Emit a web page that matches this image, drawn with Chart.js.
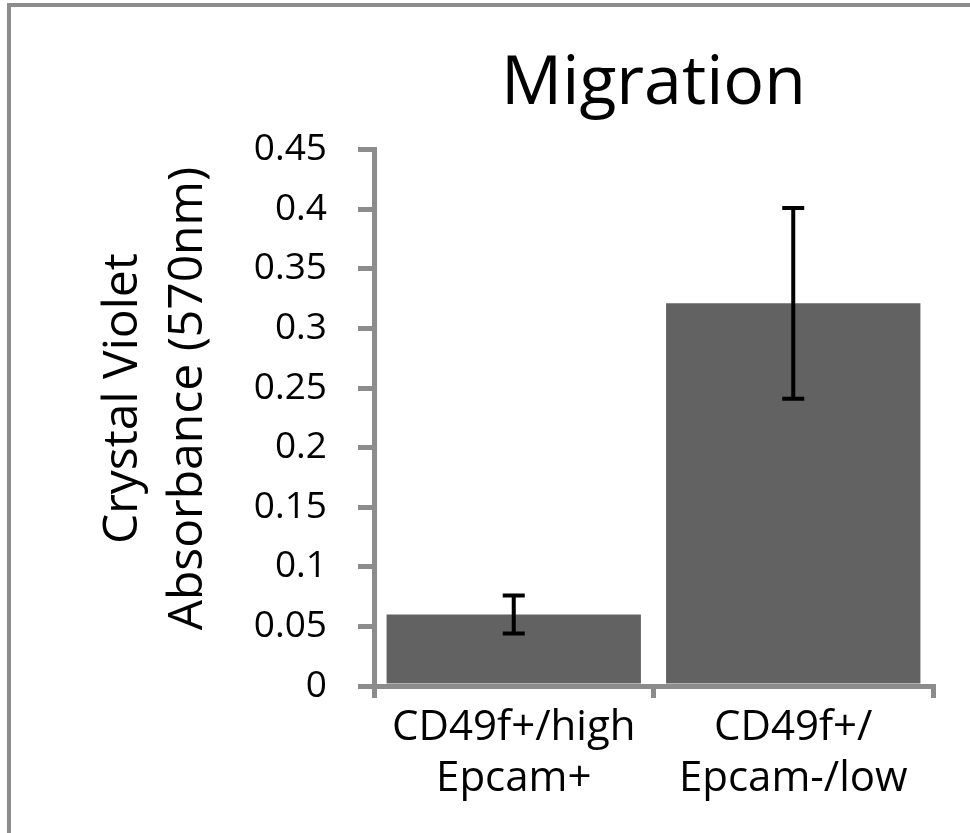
<!DOCTYPE html>
<html>
<head>
<meta charset="utf-8">
<title>Migration</title>
<script src="https://cdn.jsdelivr.net/npm/chart.js@4.4.1/dist/chart.umd.min.js"></script>
<style>
  html, body { margin: 0; padding: 0; background: #fff; overflow: hidden; }
  #wrap { position: relative; width: 970px; height: 833px; }
  #frame {
    position: absolute; left: 7px; top: 3px; right: -20px; bottom: -20px;
    border: 4px solid #8c8c8c; pointer-events: none;
  }
</style>
</head>
<body>
<div id="wrap">
  <canvas id="migrationChart" width="970" height="833"></canvas>
  <div id="frame"></div>
</div>
<script>
// ===== DATA =====
const categories = [['CD49f+/high', 'Epcam+'], ['CD49f+/', 'Epcam-/low']];
const absorbance = [0.06, 0.321];
const absorbanceErr = [0.016, 0.08];
const yTickValues = [0, 0.05, 0.1, 0.15, 0.2, 0.25, 0.3, 0.35, 0.4, 0.45];
const yTickLabels = ['0', '0.05', '0.1', '0.15', '0.2', '0.25', '0.3', '0.35', '0.4', '0.45'];
const yTitleLines = ['Crystal Violet', 'Absorbance (570nm)'];

const FONT = "'Open Sans', sans-serif";
const AXIS_GRAY = '#8c8c8c';

// ===== ERROR BARS =====
const errorBars = {
  id: 'errorBars',
  afterDatasetsDraw(chart) {
    const ctx = chart.ctx;
    const y = chart.scales.y;
    const meta = chart.getDatasetMeta(0);
    ctx.save();
    ctx.strokeStyle = '#000';
    ctx.lineWidth = 4;
    meta.data.forEach((bar, i) => {
      const hi = y.getPixelForValue(absorbance[i] + absorbanceErr[i]);
      const lo = y.getPixelForValue(absorbance[i] - absorbanceErr[i]);
      const cap = 11;
      ctx.beginPath();
      ctx.moveTo(bar.x, hi);
      ctx.lineTo(bar.x, lo);
      ctx.moveTo(bar.x - cap, hi);
      ctx.lineTo(bar.x + cap, hi);
      ctx.moveTo(bar.x - cap, lo);
      ctx.lineTo(bar.x + cap, lo);
      ctx.stroke();
    });
    ctx.restore();
  }
};

// ===== Y AXIS TITLE (two rotated lines) =====
const yAxisTitle = {
  id: 'yAxisTitle',
  afterDraw(chart) {
    const ctx = chart.ctx;
    const y = chart.scales.y;
    ctx.save();
    ctx.font = '48px ' + FONT;
    ctx.fillStyle = '#000';
    ctx.textAlign = 'center';
    ctx.textBaseline = 'alphabetic';
    const cy = y.top + 249;
    const baselines = [y.left + 137, y.left + 202];
    yTitleLines.forEach((line, i) => {
      ctx.save();
      ctx.translate(baselines[i], cy);
      ctx.rotate(-Math.PI / 2);
      ctx.fillText(line, 0, 0);
      ctx.restore();
    });
    ctx.restore();
  }
};

// ===== CHART =====
new Chart(document.getElementById('migrationChart'), {
  type: 'bar',
  data: {
    labels: categories,
    datasets: [{
      data: absorbance,
      backgroundColor: '#626262',
      borderWidth: 0,
      categoryPercentage: 1,
      barPercentage: 0.91
    }]
  },
  options: {
    responsive: false,
    animation: false,
    layout: { padding: { left: 0, right: 37, top: 0, bottom: 0 } },
    plugins: {
      legend: { display: false },
      tooltip: { enabled: false },
      title: {
        display: true,
        text: 'Migration',
        fullSize: false,
        color: '#000',
        font: { family: FONT, size: 68, weight: 'normal', lineHeight: 1.2 },
        padding: { top: 44, bottom: 24 }
      }
    },
    scales: {
      x: {
        afterFit(scale) { scale.height = 147; },
        border: { display: true, color: AXIS_GRAY, width: 5 },
        grid: {
          display: true,
          offset: true,
          drawOnChartArea: false,
          drawTicks: true,
          tickLength: 12,
          lineWidth: 5,
          tickWidth: 5,
          color: AXIS_GRAY,
          tickColor: AXIS_GRAY
        },
        ticks: {
          color: '#000',
          padding: 5,
          maxRotation: 0,
          autoSkip: false,
          font: { family: FONT, size: 42, lineHeight: 1.2 }
        }
      },
      y: {
        min: 0,
        max: 0.45,
        afterFit(scale) { scale.width = 374; },
        afterBuildTicks(scale) { scale.ticks = yTickValues.map(v => ({ value: v })); },
        border: { display: true, color: AXIS_GRAY, width: 5 },
        grid: {
          display: true,
          drawOnChartArea: false,
          drawTicks: true,
          tickLength: 16,
          lineWidth: 5,
          tickWidth: 5,
          color: AXIS_GRAY,
          tickColor: AXIS_GRAY
        },
        ticks: {
          color: '#000',
          padding: 31,
          font: { family: FONT, size: 37 },
          callback: (v, i) => yTickLabels[i]
        }
      }
    }
  },
  plugins: [errorBars, yAxisTitle]
});
</script>
</body>
</html>
